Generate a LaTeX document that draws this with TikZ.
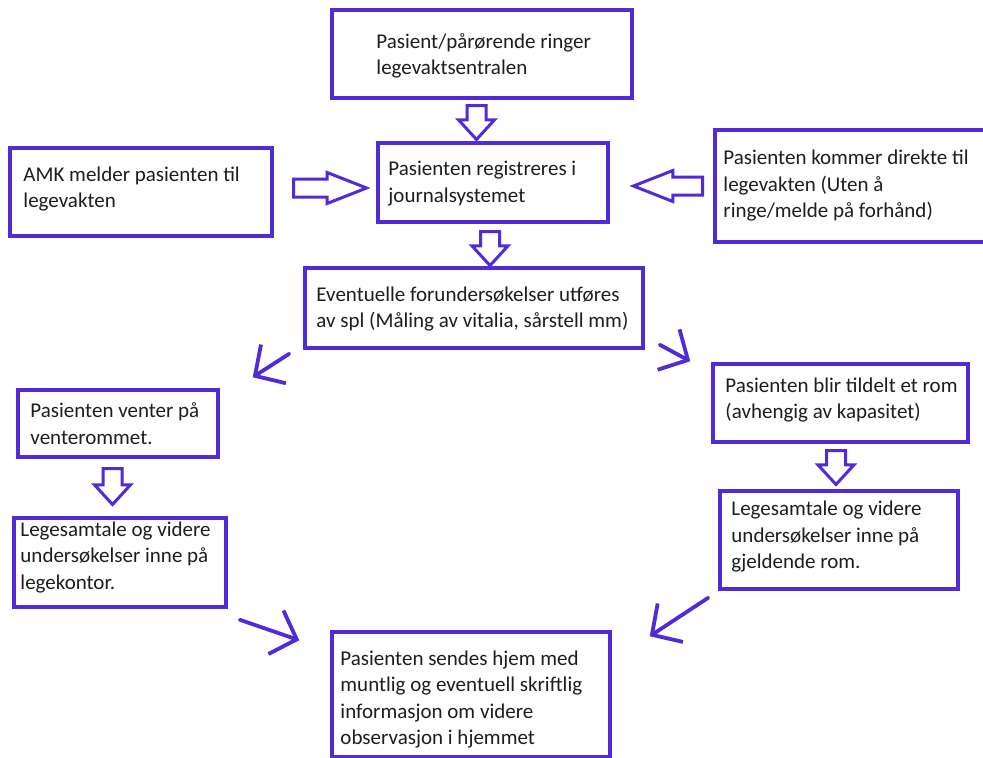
\documentclass[tikz,border=0pt]{standalone}
\usepackage{fontspec}
\setmainfont{Carlito}
\usetikzlibrary{shapes.arrows,arrows.meta,calc}

\definecolor{lilla}{RGB}{82,42,215}
\definecolor{skrift}{RGB}{30,30,30}

\tikzset{
  boks/.style={draw=lilla, line width=3.5pt, rectangle, inner sep=0pt},
  tekst/.style={anchor=west, inner sep=0pt, align=left, text=skrift, font=\fontsize{21}{26.5}\selectfont},
  blokkpil/.style={single arrow, draw=lilla, line width=3pt, inner xsep=0pt, inner ysep=8pt, anchor=tail,
    single arrow head extend=8.5pt, single arrow tip angle=85, minimum height=34pt},
  sidepil/.style={blokkpil, inner ysep=7.5pt, single arrow head extend=6.5pt,
    single arrow tip angle=43, minimum height=73pt},
  linjepil/.style={draw=lilla, line width=3.8pt, line cap=round, -{Straight Barb[length=22pt,width=46pt]}}
}

\begin{document}
\begin{tikzpicture}[x=1pt, y=-1pt]
  \path[use as bounding box, fill=white] (0,0) rectangle (983,758);

  % boksene
  \node[boks, minimum width=300, minimum height=88] (ring) at (482,54) {};
  \node[boks, minimum width=230, minimum height=79] (reg) at (493,182.5) {};
  \node[boks, minimum width=262, minimum height=88] (amk) at (141,192) {};
  \node[boks, minimum width=277, minimum height=112] (direkte) at (853.5,186) {};
  \node[boks, minimum width=338, minimum height=80] (evt) at (474,308) {};
  \node[boks, minimum width=200, minimum height=67] (venter) at (118,423.5) {};
  \node[boks, minimum width=255, minimum height=78] (rom) at (840.5,403) {};
  \node[boks, minimum width=212, minimum height=89] (lege1) at (120,562.5) {};
  \node[boks, minimum width=238, minimum height=98] (lege2) at (839,540) {};
  \node[boks, minimum width=278, minimum height=125] (hjem) at (471,694.5) {};

  % tekstene
  \node[tekst] (ring-t) at ($(ring.west)+(46,2)$) {Pasient/pårørende ringer\\legevaktsentralen};
  \node[tekst] (reg-t) at ($(reg.west)+(12,1)$) {Pasienten registreres i\\journalsystemet};
  \node[tekst] (amk-t) at ($(amk.west)+(15,-3)$) {AMK melder pasienten til\\legevakten};
  \node[tekst] (direkte-t) at ($(direkte.west)+(10,0)$) {Pasienten kommer direkte til\\legevakten (Uten å\\ringe/melde på forhånd)};
  \node[tekst] (evt-t) at ($(evt.west)+(13,1)$) {Eventuelle forundersøkelser utføres\\av spl (Måling av vitalia, sårstell mm)};
  \node[tekst] (venter-t) at ($(venter.west)+(14,0)$) {Pasienten venter på\\venterommet.};
  \node[tekst] (rom-t) at ($(rom.west)+(14,-3)$) {Pasienten blir tildelt et rom\\(avhengig av kapasitet)};
  \node[tekst] (lege1-t) at ($(lege1.west)+(8,-5)$) {Legesamtale og videre\\undersøkelser inne på\\legekontor.};
  \node[tekst] (lege2-t) at ($(lege2.west)+(13,-3)$) {Legesamtale og videre\\undersøkelser inne på\\gjeldende rom.};
  \node[tekst] (hjem-t) at ($(hjem.west)+(10,5)$) {Pasienten sendes hjem med\\muntlig og eventuell skriftlig\\informasjon om videre\\observasjon i hjemmet};

  % blokkpilene
  \node[blokkpil, rotate=-90] (pil1) at (476.5,104) {};
  \node[blokkpil, rotate=-90] (pil2) at (490,230) {};
  \node[sidepil] (pil3) at (292,188) {};
  \node[sidepil, rotate=180, minimum height=69pt] (pil4) at (704,186) {};
  \node[blokkpil, rotate=-90, minimum height=36pt] (pil5) at (112.5,467) {};
  \node[blokkpil, rotate=-90] (pil6) at (836,449) {};

  % de skraa pilene
  \draw[linjepil] ($(evt.south west)+(-14,4)$) -- ($(venter.north east)+(33,-11)$);
  \draw[linjepil] ($(evt.south east)+(15,-5)$) -- ($(rom.north west)+(-21,-1)$);
  \draw[linjepil] ($(lege1.south east)+(12,11)$) -- ($(hjem.north west)+(-31,10)$);
  \draw[linjepil] ($(lege2.south west)+(-10,7)$) -- ($(hjem.north east)+(38,6)$);
\end{tikzpicture}
\end{document}
